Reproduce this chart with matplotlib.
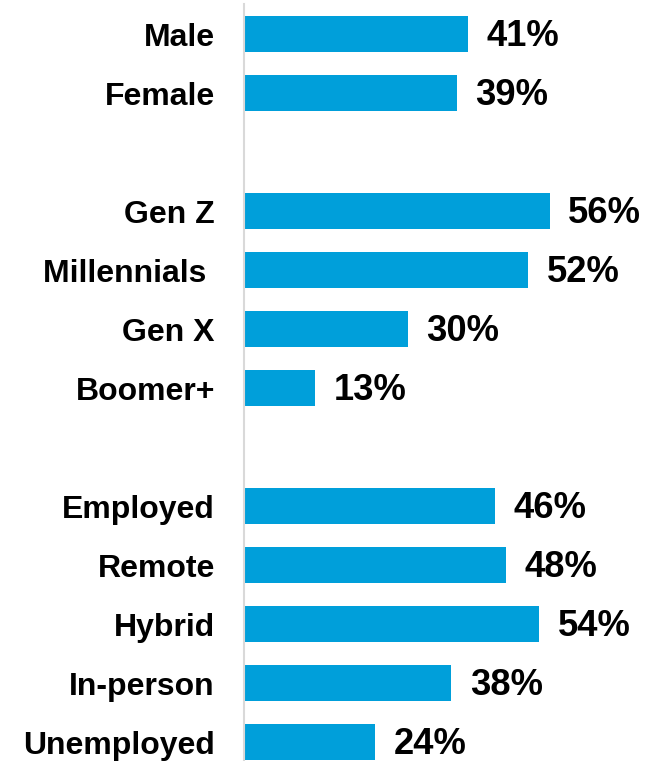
import matplotlib
matplotlib.use('Agg')
import matplotlib.pyplot as plt

categories = ['Male', 'Female', '', 'Gen Z', 'Millennials ', 'Gen X', 'Boomer+', '',
              'Employed', 'Remote', 'Hybrid', 'In-person', 'Unemployed']
values = [41, 39, None, 56, 52, 30, 13, None, 46, 48, 54, 38, 24]

plt.rcParams['font.family'] = ['Liberation Sans', 'DejaVu Sans']

fig = plt.figure(figsize=(6.62, 7.61), dpi=100)
ax = fig.add_axes([244 / 662, 0, 1 - 244 / 662, 1 - 4.5 / 761])

pos = list(range(len(categories)))
for y, v in zip(pos, values):
    if v is None:
        continue
    ax.barh(y, v, height=0.6, color='#009FDA')
    ax.annotate(f'{v}%', (v, y), xytext=(13.5, -2), textcoords='offset points',
                ha='left', va='center', fontsize=26.2, fontweight='bold')

ax.set_yticks(pos)
ax.set_yticklabels(categories, fontsize=23, fontweight='bold')
ax.tick_params(axis='y', length=0, pad=21)
ax.set_xticks([])
ax.set_xlim(0, 76.6)
ax.set_ylim(12.32, -0.5)

for s in ['top', 'right', 'bottom']:
    ax.spines[s].set_visible(False)
ax.spines['left'].set_color('#d9d9d9')
ax.spines['left'].set_linewidth(1.5)

fig.savefig('out.png', dpi=100)
